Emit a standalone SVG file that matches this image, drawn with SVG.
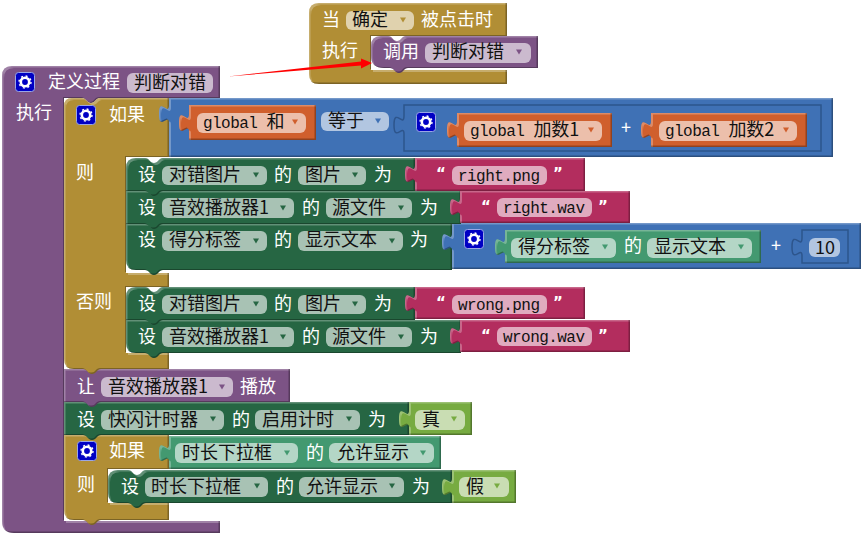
<svg xmlns="http://www.w3.org/2000/svg" width="862" height="534" viewBox="0 0 862 534">
<style>
text{font-family:"Noto Sans CJK SC","Liberation Sans",sans-serif;font-size:18px}
.w{fill:#fff}.k{fill:#111}
.m{font-family:"Liberation Mono","Noto Sans CJK SC",monospace;font-size:16px;letter-spacing:-.55px}
.m tspan{font-family:"Noto Sans CJK SC",sans-serif;font-size:18px;letter-spacing:0}
.q{font-family:"DejaVu Sans",sans-serif;font-weight:bold;font-size:15px;fill:#fff}
.bl{filter:url(#bev)}
.pu{fill:#7C5385}.go{fill:#B18E35}.bu{fill:#3F71B5}.or{fill:#D05F2D}.dg{fill:#266643}.mg{fill:#439970}.pk{fill:#B32D5E}.lg{fill:#77AB41}
.fpu{fill:#CBBACE}.fgo{fill:#E0D2AE}.fbu{fill:#B2C6E1}.for{fill:#ECBFAB}.fdg{fill:#A8C2B4}.fmg{fill:#B4D6C6}.fpk{fill:#E0ABBF}.flg{fill:#C9DDB3}
.slot{fill:#3F71B5;stroke:#2D558C;stroke-width:1.5}
</style>
<defs>
<filter id="bev" x="-3%" y="-3%" width="106%" height="106%" color-interpolation-filters="sRGB">
<feOffset in="SourceAlpha" dx="1.5" dy="1.5" result="a"/>
<feComposite in="SourceAlpha" in2="a" operator="out" result="tl"/>
<feFlood flood-color="#fff" flood-opacity=".28"/><feComposite in2="tl" operator="in" result="light"/>
<feOffset in="SourceAlpha" dx="-1.5" dy="-1.5" result="b"/>
<feComposite in="SourceAlpha" in2="b" operator="out" result="br"/>
<feFlood flood-color="#000" flood-opacity=".3"/><feComposite in2="br" operator="in" result="dark"/>
<feMerge><feMergeNode in="SourceGraphic"/><feMergeNode in="light"/><feMergeNode in="dark"/></feMerge>
</filter>
<g id="gear"><rect x="0.5" y="0.5" width="19" height="19" rx="3" fill="#0000C4" stroke="#9AA6E6"/><circle cx="10" cy="10" r="4.2" fill="none" stroke="#fff" stroke-width="2.6"/><circle cx="10" cy="10" r="6" fill="none" stroke="#fff" stroke-width="1.4" stroke-dasharray="2 2.7"/></g>
<path id="dd" d="M-3,-2.5h6l-3,5z"/>
</defs>

<g id="event">
<path class="go bl" d="M309,13Q309,3 319,3H507V36H371V70H507V84H319Q309,84 309,74Z"/>
<text class="w" x="322" y="26">当</text>
<rect class="fgo" x="346" y="11" width="68" height="19" rx="6"/><text class="k" x="352" y="26">确定</text><use href="#dd" x="403" y="20" class="go"/>
<text class="w" x="421" y="26">被点击时</text>
<text class="w" x="322" y="57">执行</text>
</g>
<g id="call">
<path class="pu bl" d="M371,46Q371,36 381,36H388c4,0 5,5 9,5s5,-5 9,-5H538V68H408c-4,0 -5,5 -9,5s-5,-5 -9,-5H384Q371,68 371,56Z"/>
<text class="w" x="383" y="58">调用</text>
<rect class="fpu" x="425" y="43" width="106" height="20" rx="6"/><text class="k" x="432" y="58">判断对错</text><use href="#dd" x="519" y="52" class="pu"/>
</g>

<g id="proc">
<path class="pu bl" d="M2,76Q2,66 12,66H220V98H100c-4,0 -5,5 -9,5s-5,-5 -9,-5H64V521H220V533H14Q2,533 2,521Z"/>
<use href="#gear" x="15" y="72"/>
<text class="w" x="48" y="88">定义过程</text>
<rect class="fpu" x="127" y="73" width="86" height="20" rx="6"/><text class="k" x="134" y="89">判断对错</text>
<text class="w" x="16" y="119">执行</text>
</g>

<g id="if2">
<path class="go bl" d="M64,435H169V469H108V503H169V520H101c-4,0 -5,5 -9,5s-5,-5 -9,-5H74Q64,520 64,510Z"/>
<use href="#gear" x="77" y="441"/>
<text class="w" x="109" y="457">如果</text>
<text class="w" x="77" y="491">则</text>
</g>
<g id="cond2">
<path class="mg bl" d="M169,436H441V469H169V462c0,-11 -10,9 -10,-9s10,3 10,-9Z"/>
<rect class="fmg" x="175" y="443" width="123" height="20" rx="6"/><text class="k" x="182" y="459">时长下拉框</text><use href="#dd" x="287" y="453" class="mg"/>
<text class="w" x="306" y="459">的</text>
<rect class="fmg" x="329" y="443" width="105" height="20" rx="6"/><text class="k" x="337" y="459">允许显示</text><use href="#dd" x="423" y="453" class="mg"/>
</g>
<g id="set-dropdown">
<path class="dg bl" d="M108,480Q108,470 118,470H128c4,0 5,5 9,5s5,-5 9,-5H452V503H146c-4,0 -5,5 -9,5s-5,-5 -9,-5H118Q108,503 108,493Z"/>
<text class="w" x="121" y="493">设</text>
<rect class="fdg" x="145" y="477" width="123" height="20" rx="6"/><text class="k" x="151" y="493">时长下拉框</text><use href="#dd" x="257" y="486" class="dg"/>
<text class="w" x="276" y="493">的</text>
<rect class="fdg" x="299" y="477" width="105" height="20" rx="6"/><text class="k" x="306" y="493">允许显示</text><use href="#dd" x="392" y="486" class="dg"/>
<text class="w" x="412" y="493">为</text>
</g>
<g id="false">
<path class="lg bl" d="M452,470H516V503H452V496c0,-11 -10,9 -10,-9s10,3 10,-9Z"/>
<rect class="flg" x="459" y="477" width="50" height="20" rx="6"/><text class="k" x="466" y="493">假</text><use href="#dd" x="497" y="486" class="lg"/>
</g>

<g id="set-timer">
<path class="dg bl" d="M64,402H409V435H101c-4,0 -5,5 -9,5s-5,-5 -9,-5H64Z"/>
<text class="w" x="77" y="426">设</text>
<rect class="fdg" x="101" y="410" width="123" height="20" rx="6"/><text class="k" x="108" y="426">快闪计时器</text><use href="#dd" x="213" y="419" class="dg"/>
<text class="w" x="232" y="426">的</text>
<rect class="fdg" x="255" y="410" width="105" height="20" rx="6"/><text class="k" x="262" y="426">启用计时</text><use href="#dd" x="349" y="419" class="dg"/>
<text class="w" x="368" y="426">为</text>
</g>
<g id="true">
<path class="lg bl" d="M409,402H472V435H409V428c0,-11 -10,9 -10,-9s10,3 10,-9Z"/>
<rect class="flg" x="415" y="410" width="50" height="20" rx="6"/><text class="k" x="422" y="426">真</text><use href="#dd" x="454" y="419" class="lg"/>
</g>

<g id="play">
<path class="pu bl" d="M64,369H290V402H101c-4,0 -5,5 -9,5s-5,-5 -9,-5H64Z"/>
<text class="w" x="77" y="393">让</text>
<rect class="fpu" x="101" y="377" width="132" height="20" rx="6"/><text class="k" x="108" y="393">音效播放器1</text><use href="#dd" x="222" y="387" class="pu"/>
<text class="w" x="240" y="393">播放</text>
</g>

<g id="if1">
<path class="go bl" d="M64,106Q64,98 72,98H82c4,0 5,5 9,5s5,-5 9,-5H169V157H126V273H169V287H126V353H169V369H101c-4,0 -5,5 -9,5s-5,-5 -9,-5H74Q64,369 64,359Z"/>
<use href="#gear" x="76" y="105"/>
<text class="w" x="109" y="121">如果</text>
<text class="w" x="76" y="179">则</text>
<text class="w" x="76" y="308">否则</text>
</g>

<g id="equals">
<path class="bu bl" d="M169,98H833V157H169V123c0,-11 -10,9 -10,-9s10,3 10,-9Z"/>
<rect class="fbu" x="321" y="112" width="68" height="19" rx="6"/><text class="k" x="328" y="127">等于</text><use href="#dd" x="378" y="121" class="bu"/>
</g>
<g id="var-sum">
<path class="or bl" d="M189,105H316V140H189V132c0,-11 -10,9 -10,-9s10,3 10,-9Z"/>
<rect class="for" x="197" y="113" width="109" height="20" rx="6"/><text class="k m" x="203" y="128">global <tspan>和</tspan></text><use href="#dd" x="295" y="122" class="or"/>
</g>
<g id="add">
<path class="slot" d="M404,105H821V151H404V134c0,-11 -10,9 -10,-9s10,3 10,-9Z"/>
<use href="#gear" x="416" y="112"/>
<text class="w" x="621" y="134">+</text>
</g>
<g id="var-a">
<path class="or bl" d="M457,113H612V147H457V139c0,-11 -10,9 -10,-9s10,3 10,-9Z"/>
<rect class="for" x="464" y="121" width="138" height="20" rx="6"/><text class="k m" x="470" y="136">global <tspan>加数1</tspan></text><use href="#dd" x="591" y="130" class="or"/>
</g>
<g id="var-b">
<path class="or bl" d="M651,113H807V147H651V139c0,-11 -10,9 -10,-9s10,3 10,-9Z"/>
<rect class="for" x="659" y="121" width="138" height="20" rx="6"/><text class="k m" x="665" y="136">global <tspan>加数2</tspan></text><use href="#dd" x="786" y="130" class="or"/>
</g>

<g id="set-score">
<path class="dg bl" d="M126,224H452V270H163c-4,0 -5,5 -9,5s-5,-5 -9,-5H136Q126,270 126,260Z"/>
<text class="w" x="138" y="246">设</text>
<rect class="fdg" x="162" y="231" width="105" height="20" rx="6"/><text class="k" x="169" y="246">得分标签</text><use href="#dd" x="256" y="241" class="dg"/>
<text class="w" x="274" y="246">的</text>
<rect class="fdg" x="298" y="231" width="105" height="20" rx="6"/><text class="k" x="305" y="246">显示文本</text><use href="#dd" x="392" y="241" class="dg"/>
<text class="w" x="410" y="246">为</text>
</g>
<g id="score-sum">
<path class="bu bl" d="M452,223H861V269H452V251c0,-11 -10,9 -10,-9s10,3 10,-9Z"/>
<use href="#gear" x="464" y="229"/>
<text class="w" x="771" y="252">+</text>
<path class="slot" d="M802,230H848V263H802V256c0,-11 -10,9 -10,-9s10,3 10,-9Z"/>
<rect class="fbu" x="809" y="238" width="31" height="19" rx="6"/><text class="k" x="815" y="254">10</text>
</g>
<g id="score-get">
<path class="mg bl" d="M505,230H761V263H505V256c0,-11 -10,9 -10,-9s10,3 10,-9Z"/>
<rect class="fmg" x="511" y="238" width="105" height="20" rx="6"/><text class="k" x="518" y="253">得分标签</text><use href="#dd" x="605" y="247" class="mg"/>
<text class="w" x="624" y="252">的</text>
<rect class="fmg" x="647" y="238" width="105" height="20" rx="6"/><text class="k" x="654" y="253">显示文本</text><use href="#dd" x="741" y="247" class="mg"/>
</g>

<g id="set-src1">
<path class="dg bl" d="M126,191H461V224H163c-4,0 -5,5 -9,5s-5,-5 -9,-5H126Z"/>
<text class="w" x="138" y="214">设</text>
<rect class="fdg" x="162" y="198" width="132" height="20" rx="6"/><text class="k" x="169" y="214">音效播放器1</text><use href="#dd" x="283" y="208" class="dg"/>
<text class="w" x="302" y="214">的</text>
<rect class="fdg" x="326" y="198" width="86" height="20" rx="6"/><text class="k" x="332" y="214">源文件</text><use href="#dd" x="401" y="208" class="dg"/>
<text class="w" x="420" y="214">为</text>
</g>
<g id="str-right-wav">
<path class="pk bl" d="M460,191H630V223H460V216c0,-11 -10,9 -10,-9s10,3 10,-9Z"/>
<text class="q" x="481" y="212">“</text>
<rect class="fpk" x="497" y="198" width="95" height="19" rx="6"/><text class="k m" x="503" y="213">right.wav</text>
<text class="q" x="598" y="212">”</text>
</g>
<g id="set-img1">
<path class="dg bl" d="M126,168Q126,158 136,158H145c4,0 5,5 9,5s5,-5 9,-5H415V191H163c-4,0 -5,5 -9,5s-5,-5 -9,-5H126Z"/>
<text class="w" x="138" y="181">设</text>
<rect class="fdg" x="162" y="166" width="105" height="19" rx="6"/><text class="k" x="169" y="181">对错图片</text><use href="#dd" x="256" y="175" class="dg"/>
<text class="w" x="274" y="181">的</text>
<rect class="fdg" x="298" y="166" width="68" height="19" rx="6"/><text class="k" x="305" y="181">图片</text><use href="#dd" x="355" y="175" class="dg"/>
<text class="w" x="374" y="181">为</text>
</g>
<g id="str-right-png">
<path class="pk bl" d="M415,158H585V191H415V183c0,-11 -10,9 -10,-9s10,3 10,-9Z"/>
<text class="q" x="436" y="179">“</text>
<rect class="fpk" x="452" y="166" width="95" height="19" rx="6"/><text class="k m" x="458" y="181">right.png</text>
<text class="q" x="553" y="179">”</text>
</g>

<g id="set-src2">
<path class="dg bl" d="M126,320H461V353H163c-4,0 -5,5 -9,5s-5,-5 -9,-5H136Q126,353 126,343Z"/>
<text class="w" x="138" y="343">设</text>
<rect class="fdg" x="162" y="327" width="132" height="20" rx="6"/><text class="k" x="169" y="343">音效播放器1</text><use href="#dd" x="283" y="337" class="dg"/>
<text class="w" x="302" y="343">的</text>
<rect class="fdg" x="326" y="327" width="86" height="20" rx="6"/><text class="k" x="332" y="343">源文件</text><use href="#dd" x="401" y="337" class="dg"/>
<text class="w" x="420" y="343">为</text>
</g>
<g id="str-wrong-wav">
<path class="pk bl" d="M460,320H630V352H460V345c0,-11 -10,9 -10,-9s10,3 10,-9Z"/>
<text class="q" x="481" y="341">“</text>
<rect class="fpk" x="497" y="327" width="95" height="19" rx="6"/><text class="k m" x="503" y="342">wrong.wav</text>
<text class="q" x="598" y="341">”</text>
</g>
<g id="set-img2">
<path class="dg bl" d="M126,297Q126,287 136,287H145c4,0 5,5 9,5s5,-5 9,-5H415V320H163c-4,0 -5,5 -9,5s-5,-5 -9,-5H126Z"/>
<text class="w" x="138" y="310">设</text>
<rect class="fdg" x="162" y="295" width="105" height="19" rx="6"/><text class="k" x="169" y="310">对错图片</text><use href="#dd" x="256" y="304" class="dg"/>
<text class="w" x="274" y="310">的</text>
<rect class="fdg" x="298" y="295" width="68" height="19" rx="6"/><text class="k" x="305" y="310">图片</text><use href="#dd" x="355" y="304" class="dg"/>
<text class="w" x="374" y="310">为</text>
</g>
<g id="str-wrong-png">
<path class="pk bl" d="M415,287H585V319H415V312c0,-11 -10,9 -10,-9s10,3 10,-9Z"/>
<text class="q" x="436" y="308">“</text>
<rect class="fpk" x="452" y="295" width="95" height="19" rx="6"/><text class="k m" x="458" y="310">wrong.png</text>
<text class="q" x="553" y="308">”</text>
</g>

<g id="connectors">
<path fill="#f00" d="M228,76.5L361,61.5L361,58.5L372,63L361,68.5L361,65.5Z"/>
</g>
</svg>
